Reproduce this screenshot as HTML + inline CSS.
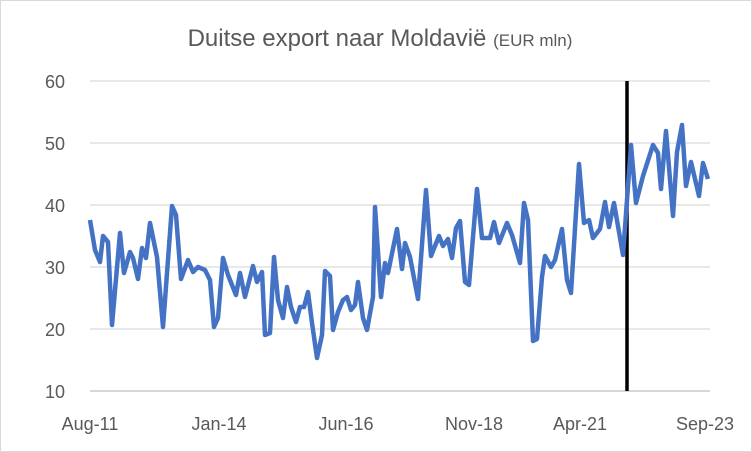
<!DOCTYPE html>
<html><head><meta charset="utf-8"><style>
html,body{margin:0;padding:0;background:#fff}
svg{display:block}
text{font-family:"Liberation Sans",sans-serif;fill:#595959}
</style></head><body>
<svg width="752" height="452" viewBox="0 0 752 452">
<rect x="0.5" y="0.5" width="751" height="451" fill="#fff" stroke="#d9d9d9"/>
<text x="380" y="46" text-anchor="middle" font-size="24">Duitse export naar Moldavië <tspan font-size="17">(EUR mln)</tspan></text>
<g stroke="#d9d9d9" stroke-width="1.3">
<line x1="90" x2="710" y1="81" y2="81"/><line x1="90" x2="710" y1="143" y2="143"/>
<line x1="90" x2="710" y1="205" y2="205"/><line x1="90" x2="710" y1="267" y2="267"/>
<line x1="90" x2="710" y1="329" y2="329"/>
</g>
<line x1="90" x2="710" y1="391" y2="391" stroke="#bfbfbf" stroke-width="1.3"/>
<g font-size="18" text-anchor="end">
<text x="65" y="88">60</text><text x="65" y="150">50</text><text x="65" y="212">40</text>
<text x="65" y="274">30</text><text x="65" y="336">20</text><text x="65" y="398">10</text>
</g>
<g font-size="18" text-anchor="middle">
<text x="90" y="430">Aug-11</text><text x="219" y="430">Jan-14</text><text x="346" y="430">Jun-16</text>
<text x="474" y="430">Nov-18</text><text x="580" y="430">Apr-21</text><text x="705" y="430">Sep-23</text>
</g>
<line x1="627" x2="627" y1="81" y2="391" stroke="#000" stroke-width="3.5"/>
<polyline fill="none" stroke="#4472c4" stroke-width="4.5" stroke-linejoin="round" points="90,220 95,250 100,262 103,236 108,242 112,325 120,233 124,273 130,252 133,258 138,279 142,248 146,258 150,223 157,257 163,327 172,206 176,215 181,279 188,260 193,272 198,267 205,270 210,280 214,327 218,318 223,258 228,275 236,295 240,273 245,297 253,266 257,282 262,272 265,335 270,333 274,257 278,300 283,318 287,287 291,307 296,322 300,307 304,307 308,292 312,323 317,358 322,335 325,271 330,276 333,330 338,312 343,300 347,297 351,310 355,305 358,282 363,318 367,330 373,297 375,207 381,297 385,263 388,273 397,229 402,269 405,243 410,257 418,299 426,190 431,256 439,236 443,246 448,239 452,258 456,228 460,221 465,282 469,285 477,189 482,238 490,238 494,222 499,243 507,223 512,235 520,263 524,203 528,220 533,341 537,339 542,277 545,256 551,267 555,260 562,229 567,280 571,293 579,164 584,223 589,220 593,238 600,229 605,202 609,227 614,203 623,255 631,145 636,203 643,176 653,145 658,153 661,189 666,131 673,216 677,152 682,125 686,186 691,162 699,196 703,163 708,179"/>
</svg>
</body></html>
